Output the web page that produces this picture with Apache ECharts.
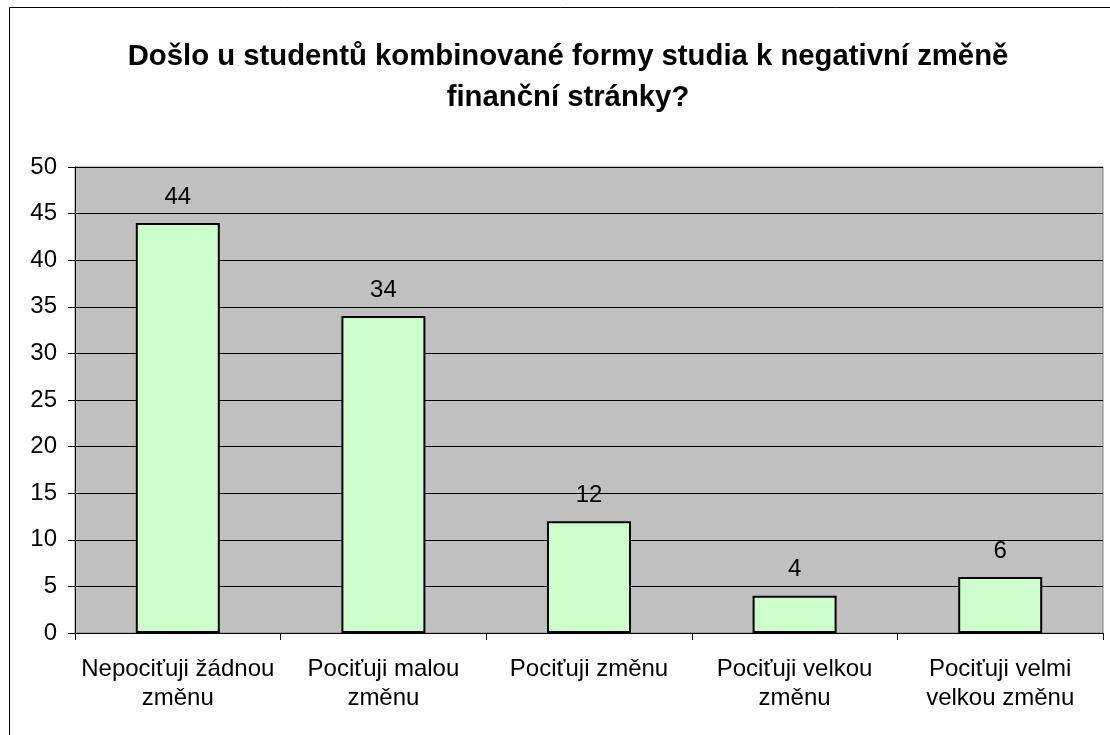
<!DOCTYPE html>
<html><head><meta charset="utf-8">
<script src="https://cdn.jsdelivr.net/npm/echarts@6/dist/echarts.min.js"></script>
<style>html,body{margin:0;padding:0;background:#fff}#c{width:1110px;height:735px}</style>
</head><body><div id="c"></div>
<script>
const titleText = "Došlo u studentů kombinované formy studia k negativní změně\nfinanční stránky?";
const categories = ["Nepociťuji žádnou\nzměnu", "Pociťuji malou\nzměnu", "Pociťuji změnu", "Pociťuji velkou\nzměnu", "Pociťuji velmi\nvelkou změnu"];
const values = [44, 34, 12, 4, 6];

const FONT = '"Liberation Sans", Arial, sans-serif';
const chart = echarts.init(document.getElementById('c'), null, {renderer: 'canvas'});
chart.setOption({
  animation: false,
  backgroundColor: '#fff',
  graphic: [{
    type: 'rect', shape: {x: 9.5, y: 7.5, width: 1120, height: 740},
    style: {fill: 'none', stroke: '#000', lineWidth: 1}, z: 100
  }],
  title: {
    text: titleText, left: 563, top: 31, textAlign: 'center',
    textStyle: {fontFamily: FONT, fontSize: 29.3, fontWeight: 'bold', color: '#000', lineHeight: 41}
  },
  grid: {left: 75, right: 7, top: 167, bottom: 102, show: true, backgroundColor: '#C0C0C0', borderColor: '#808080', borderWidth: 1},
  xAxis: {
    type: 'category', data: categories,
    axisLine: {lineStyle: {color: '#000', width: 1}},
    axisTick: {show: true, length: 7, lineStyle: {color: '#000'}},
    axisLabel: {fontFamily: FONT, fontSize: 24, color: '#000', margin: 22, lineHeight: 29, interval: 0}
  },
  yAxis: {
    type: 'value', min: 0, max: 50, interval: 5,
    axisLine: {show: true, lineStyle: {color: '#000', width: 1}},
    axisTick: {show: true, length: 7, lineStyle: {color: '#000'}},
    axisLabel: {fontFamily: FONT, fontSize: 24, color: '#000', margin: 18},
    splitLine: {show: true, lineStyle: {color: '#000', width: 1}}
  },
  series: [{
    type: 'bar', data: values, barWidth: 84,
    itemStyle: {color: '#CCFFCC', borderColor: '#000', borderWidth: 2},
    label: {show: true, position: 'top', distance: 14, fontFamily: FONT, fontSize: 24, color: '#000'}
  }]
});
</script></body></html>
